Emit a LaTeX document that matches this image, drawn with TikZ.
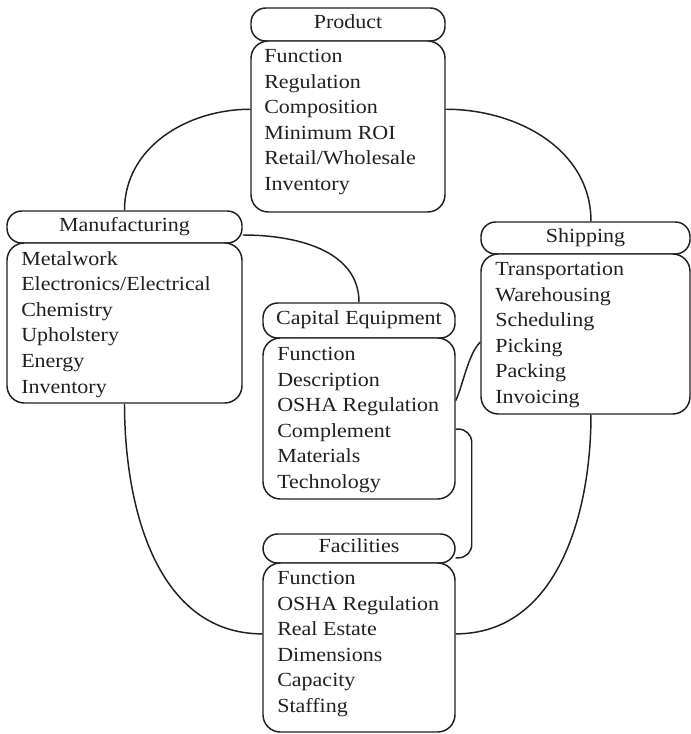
\documentclass[tikz,border=0pt]{standalone}
\usepackage{fontspec}
\setmainfont{Liberation Serif}[FakeStretch=1.1]
\usetikzlibrary{fit,calc,backgrounds}
\definecolor{ink}{HTML}{231F20}
\begin{document}
\begin{tikzpicture}[x=0.75pt,y=-0.75pt,
  txt/.style={font=\fontsize{15pt}{19.2pt}\selectfont, text=ink},
  frame/.style={draw=ink, line width=1.1pt, inner sep=0pt, fill=white},
  headbox/.style={frame, txt, rounded corners=11pt, text height=10pt, text depth=3.5pt},
  bodybox/.style={frame, rounded corners=13pt},
  itemlist/.style={txt, anchor=north west, inner sep=0pt, align=left},
  link/.style={draw=ink, line width=1.1pt}]
\useasboundingbox (0,0) rectangle (691,734);

% Product
\node[headbox, minimum width=145.5pt, minimum height=24.75pt] (prodh) at (348,24.5) {Product};
\node[bodybox, fit={(251,41) (445,212)}] (prodb) {};
\node[itemlist] (prodt) at (264,49)
  {Function\\Regulation\\Composition\\Minimum ROI\\Retail/Wholesale\\Inventory};

% Manufacturing
\node[headbox, minimum width=176.25pt, minimum height=24pt] (manuh) at (124.5,227) {Manufacturing};
\node[bodybox, fit={(7,243) (242,403)}] (manub) {};
\node[itemlist] (manut) at (21,251)
  {Metalwork\\Electronics/Electrical\\Chemistry\\Upholstery\\Energy\\Inventory};

% Capital Equipment
\node[headbox, minimum width=144pt, minimum height=26.25pt] (caph) at (359,320.5) {Capital Equipment};
\node[bodybox, fit={(263,338) (455,499)}] (capb) {};
\node[itemlist] (capt) at (277,347)
  {Function\\Description\\OSHA Regulation\\Complement\\Materials\\Technology};

% Shipping
\node[headbox, minimum width=156.75pt, minimum height=24pt] (shiph) at (585.5,238) {Shipping};
\node[bodybox, fit={(481,254) (690,414)}] (shipb) {};
\node[itemlist] (shipt) at (495,262)
  {Transportation\\Warehousing\\Scheduling\\Picking\\Packing\\Invoicing};

% Facilities
\node[headbox, minimum width=144pt, minimum height=21.75pt] (facih) at (359,548.5) {Facilities};
\node[bodybox, fit={(263,563) (455,732)}] (facib) {};
\node[itemlist] (facit) at (277,571)
  {Function\\OSHA Regulation\\Real Estate\\Dimensions\\Capacity\\Staffing};

% Connectors
\begin{scope}[on background layer]
\draw[link] ($(prodb.north west)!0.40!(prodb.south west)$) to[out=180,in=90] (manuh.north);
\draw[link] ($(prodb.north east)!0.40!(prodb.south east)$) to[out=0,in=90]
  ($(shiph.north west)!0.526!(shiph.north east)$);
\draw[link] ([yshift=-6pt]manuh.east) to[out=0,in=90] (caph.north);
\draw[link] ($(capb.north east)!0.39!(capb.south east)$) to[out=65,in=225,looseness=0.7]
  ($(shipb.north west)!0.55!(shipb.south west)$);
\draw[link, rounded corners=10pt] ($(capb.north east)!0.565!(capb.south east)$)
  -- ++(16,0) |- ([yshift=-7pt]facih.east);
\draw[link] (manub.south) to[out=-90,in=180] ($(facib.north west)!0.42!(facib.south west)$);
\draw[link] ($(shipb.south west)!0.526!(shipb.south east)$) to[out=-90,in=0]
  ($(facib.north east)!0.42!(facib.south east)$);
\end{scope}
\end{tikzpicture}
\end{document}
